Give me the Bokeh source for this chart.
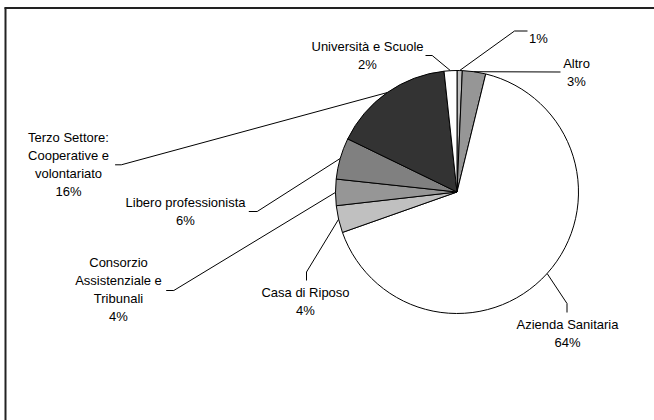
import math
from bokeh.plotting import figure
from bokeh.models import Range1d, ColumnDataSource
from bokeh.core.properties import value
from bokeh.embed import file_html
from bokeh.resources import INLINE

# ---- data (clockwise from 12 o'clock) ----
names = [
    [],
    ["Altro"],
    ["Azienda Sanitaria"],
    ["Casa di Riposo"],
    ["Consorzio", "Assistenziale e", "Tribunali"],
    ["Libero professionista"],
    ["Terzo Settore:", "Cooperative e", "volontariato"],
    ["Università e Scuole"],
]
shares = [0.7, 3.1, 65.8, 3.6, 3.5, 5.5, 16.1, 1.7]
pct_labels = ["1%", "3%", "64%", "4%", "4%", "6%", "16%", "2%"]
colors = ["#c0c0c0", "#969696", "#ffffff", "#c0c0c0", "#969696", "#808080", "#333333", "#ffffff"]

# ---- layout (pixel coordinates, y down) ----
W, H = 654, 420
CX, CY, R = 456.5, 191.5, 121.5
label_centers = [(538, 38), (576, 72), (567, 332.5), (305, 301),
                 (118, 288.5), (185, 210.5), (68, 164), (367, 54.5)]
leader_pts = [
    [(527, 30.5), (514, 30.5)],
    [(560, 71.5)],
    [(566.5, 312), (566.5, 303)],
    [(306, 280), (306, 271.5)],
    [(165.7, 290), (173.3, 290)],
    [(248.3, 211), (256.7, 211)],
    [(114.6, 164.3), (120.8, 164.3)],
    [(425, 55), (431.7, 55)],
]
LINE_H = 18
FONT = value("Liberation Sans")


def Y(ypix):
    return H - ypix


p = figure(width=W, height=H, x_range=Range1d(0, W), y_range=Range1d(0, H),
           toolbar_location=None, output_backend="svg", min_border=0,
           x_axis_location=None, y_axis_location=None)
p.grid.visible = False
p.outline_line_color = None
p.background_fill_color = "white"
p.border_fill_color = "white"

total = sum(shares)
starts, ends, mids = [], [], []
cum = 0.0
for s in shares:
    a0 = math.pi / 2 - 2 * math.pi * cum / total
    cum += s
    a1 = math.pi / 2 - 2 * math.pi * cum / total
    starts.append(a0)
    ends.append(a1)
    mids.append((a0 + a1) / 2)

src = ColumnDataSource(dict(x=[CX] * len(shares), y=[Y(CY)] * len(shares),
                            start=starts, end=ends, color=colors))
p.wedge(x="x", y="y", radius=R, start_angle="start", end_angle="end",
        direction="clock", fill_color="color", line_color="black",
        line_width=1, source=src)

# leader lines
xs, ys = [], []
for pts, m in zip(leader_pts, mids):
    ex = CX + R * math.cos(m)
    ey = Y(CY) + R * math.sin(m)
    xs.append([q[0] for q in pts] + [ex])
    ys.append([Y(q[1]) for q in pts] + [ey])
p.multi_line(xs=xs, ys=ys, line_color="black", line_width=1)

# labels
tx, ty, tt = [], [], []
for nm, pc, (lx, ly) in zip(names, pct_labels, label_centers):
    lines = nm + [pc]
    n = len(lines)
    for i, ln in enumerate(lines):
        tx.append(lx)
        ty.append(Y(ly + (i - (n - 1) / 2) * LINE_H))
        tt.append(ln)
p.text(x=tx, y=ty, text=tt, text_align="center", text_baseline="middle",
       text_font=FONT, text_font_size="13px", text_color="black")

# frame (top and left edges)
p.line(x=[4, W], y=[Y(7.5), Y(7.5)], line_color="#222222", line_width=2)
p.line(x=[5, 5], y=[Y(7), 0], line_color="#222222", line_width=2)

open("out.html", "w").write(file_html(p, INLINE))
